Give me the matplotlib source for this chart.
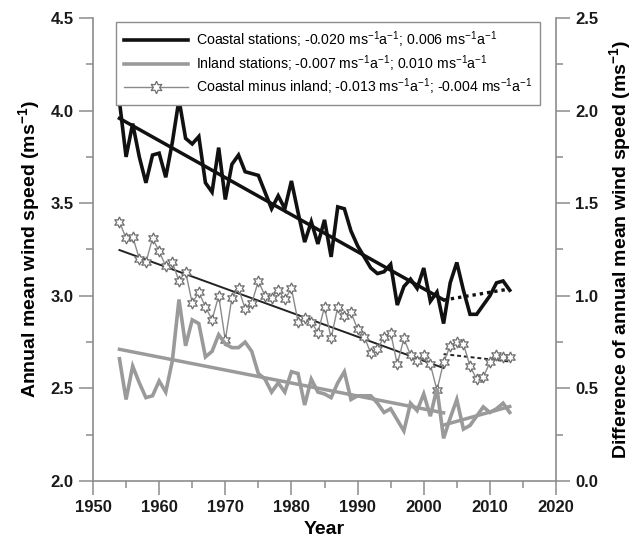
import matplotlib

matplotlib.use("Agg")
import matplotlib.pyplot as plt
import numpy as np

plt.rcParams["font.family"] = ["Liberation Sans", "DejaVu Sans"]
plt.rcParams["mathtext.default"] = "regular"

# ---------------------------------------------------------------------------
# Annual mean wind speed, 1954-2013
# ---------------------------------------------------------------------------
years = np.arange(1954, 2014)

coastal = [
    4.05, 3.75, 3.93, 3.75, 3.61, 3.76, 3.77, 3.64, 3.83, 4.06,
    3.85, 3.82, 3.86, 3.61, 3.56, 3.80, 3.52, 3.71, 3.76, 3.67,
    3.66, 3.65, 3.56, 3.47, 3.54, 3.47, 3.62, 3.45, 3.29, 3.40,
    3.28, 3.41, 3.21, 3.48, 3.47, 3.35, 3.27, 3.21, 3.15, 3.12,
    3.13, 3.17, 2.95, 3.05, 3.09, 3.04, 3.15, 2.97, 3.02, 2.85,
    3.07, 3.18, 3.03, 2.90, 2.90, 2.95, 3.00, 3.07, 3.08, 3.03,
]
inland = [
    2.66, 2.44, 2.62, 2.53, 2.45, 2.46, 2.54, 2.48, 2.65, 2.98,
    2.73, 2.87, 2.85, 2.67, 2.70, 2.79, 2.74, 2.72, 2.72, 2.75,
    2.70, 2.58, 2.55, 2.48, 2.53, 2.48, 2.59, 2.58, 2.41, 2.55,
    2.48, 2.47, 2.45, 2.53, 2.59, 2.44, 2.46, 2.46, 2.46, 2.42,
    2.37, 2.39, 2.33, 2.27, 2.42, 2.38, 2.47, 2.35, 2.50, 2.23,
    2.34, 2.44, 2.28, 2.30, 2.35, 2.40, 2.37, 2.39, 2.42, 2.37,
]
difference = [
    1.40, 1.31, 1.32, 1.20, 1.18, 1.31, 1.24, 1.16, 1.18, 1.08,
    1.13, 0.96, 1.02, 0.94, 0.87, 1.00, 0.76, 0.99, 1.04, 0.93,
    0.96, 1.08, 1.00, 0.99, 1.03, 0.98, 1.04, 0.86, 0.88, 0.86,
    0.80, 0.94, 0.77, 0.94, 0.89, 0.91, 0.82, 0.78, 0.69, 0.71,
    0.78, 0.80, 0.63, 0.77, 0.68, 0.65, 0.68, 0.63, 0.49, 0.64,
    0.73, 0.75, 0.74, 0.62, 0.55, 0.56, 0.64, 0.68, 0.67, 0.67,
]

# Linear trends: two periods split at 2003 (slope in ms-1 a-1, value at period start)
early_years = np.array([1954, 2003])
late_years = np.array([2003, 2013])
coastal_slopes = (-0.020, 0.006)
coastal_starts = (3.958, 2.977)
inland_slopes = (-0.007, 0.010)
inland_starts = (2.711, 2.302)
diff_slopes = (-0.013, -0.004)
diff_starts = (1.247, 0.685)


def trend(period, slope, start):
    return start + slope * (period - period[0])


UNIT = r"$ms^{-1}a^{-1}$"


def label(name, slopes):
    return f"{name}; {slopes[0]:.3f} {UNIT}; {slopes[1]:.3f} {UNIT}"


BLACK = "#111111"
GREY = "#9a9a9a"
SPINE = "#8c8c8c"

fig = plt.figure(figsize=(6.44, 5.49), dpi=100)
ax = fig.add_axes([0.1444, 0.1239, 0.7190, 0.8433])
ax2 = ax.twinx()

# ---- left axis: station means ----------------------------------------------
ax.plot(years, coastal, color=BLACK, lw=2.6, solid_joinstyle="miter",
        label=label("Coastal stations", coastal_slopes), zorder=3)
ax.plot(early_years, trend(early_years, coastal_slopes[0], coastal_starts[0]),
        color=BLACK, lw=2.5, zorder=3)
ax.plot(late_years, trend(late_years, coastal_slopes[1], coastal_starts[1]),
        color=BLACK, lw=2.4, ls=(0, (1, 1.2)), zorder=3)

ax.plot(years, inland, color=GREY, lw=2.6, solid_joinstyle="miter",
        label=label("Inland stations", inland_slopes), zorder=2)
ax.plot(early_years, trend(early_years, inland_slopes[0], inland_starts[0]),
        color=GREY, lw=2.5, zorder=2)
ax.plot(late_years, trend(late_years, inland_slopes[1], inland_starts[1]),
        color=GREY, lw=2.5, zorder=2)

# ---- right axis: coastal minus inland --------------------------------------
ax2.plot(years, difference, color="#8a8a8a", lw=1.0, marker=(6, 1, 0),
         markersize=8, markerfacecolor="white", markeredgecolor="#6e6e6e",
         markeredgewidth=0.9, zorder=4)
ax2.plot(early_years, trend(early_years, diff_slopes[0], diff_starts[0]),
         color="#222222", lw=1.4, zorder=3)
ax2.plot(late_years, trend(late_years, diff_slopes[1], diff_starts[1]),
         color="#222222", lw=1.4, ls=(0, (2, 1.5)), zorder=3)
diff_handle = plt.Line2D([], [], color="#8a8a8a", lw=1.0, marker=(6, 1, 0),
                         markersize=9, markerfacecolor="white",
                         markeredgecolor="#6e6e6e", markeredgewidth=0.9)

# ---- axes styling -----------------------------------------------------------
ax.set_xlim(1950, 2020)
ax.set_ylim(2.0, 4.5)
ax2.set_ylim(0.0, 2.5)
ax.set_xticks(np.arange(1950, 2021, 10))
ax.set_xticks(np.arange(1955, 2020, 10), minor=True)
ax.set_yticks(np.arange(2.0, 4.51, 0.5))
ax.set_yticks(np.arange(2.25, 4.5, 0.5), minor=True)
ax2.set_yticks(np.arange(0.0, 2.51, 0.5))
ax2.set_yticks(np.arange(0.25, 2.5, 0.5), minor=True)
ax.yaxis.set_major_formatter(matplotlib.ticker.FormatStrFormatter("%.1f"))
ax2.yaxis.set_major_formatter(matplotlib.ticker.FormatStrFormatter("%.1f"))

for a in (ax, ax2):
    a.spines["top"].set_visible(False)
    for side in ("left", "right", "bottom"):
        a.spines[side].set_color(SPINE)
        a.spines[side].set_linewidth(1.2)
    a.tick_params(which="major", direction="out", length=10, width=1.1,
                  color=SPINE, labelsize=12, labelcolor="#1a1a1a", pad=4)
    a.tick_params(which="minor", direction="out", length=5, width=1.1,
                  color=SPINE)
    for t in a.get_xticklabels() + a.get_yticklabels():
        t.set_fontweight("bold")
ax.spines["right"].set_visible(False)
ax2.spines["left"].set_visible(False)
ax2.spines["bottom"].set_visible(False)

ax.set_xlabel("Year", fontsize=14, fontweight="bold", labelpad=4)
ax.set_ylabel(r"Annual mean wind speed ($ms^{-1}$)", fontsize=14,
              fontweight="bold", labelpad=6)
ax2.set_ylabel(r"Difference of annual mean wind speed ($ms^{-1}$)",
               fontsize=14, fontweight="bold", labelpad=6)

handles, labels = ax.get_legend_handles_labels()
handles.append(diff_handle)
labels.append(label("Coastal minus inland", diff_slopes))
leg = ax.legend(handles, labels, loc="upper left",
                bbox_to_anchor=(0.0497, 0.9914), borderaxespad=0,
                fontsize=10.2, handlelength=4.5, handletextpad=0.6,
                labelspacing=0.2, fancybox=False, edgecolor=SPINE,
                framealpha=1, borderpad=0.55)
leg.get_frame().set_linewidth(1.0)
leg.set_zorder(10)
ax.set_zorder(ax2.get_zorder() + 1)
ax.patch.set_visible(False)

fig.savefig("out.png", dpi=100)
